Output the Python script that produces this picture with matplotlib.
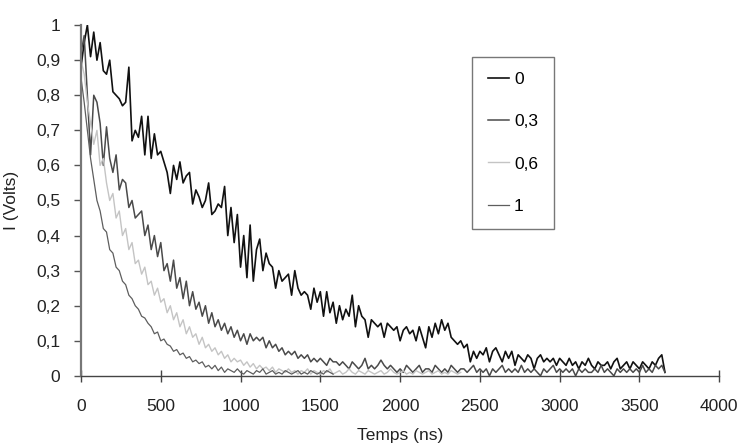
import numpy as np
import matplotlib
matplotlib.use("Agg")
import matplotlib.pyplot as plt
from matplotlib.ticker import FuncFormatter

plt.rcParams['font.family'] = ['Liberation Sans', 'DejaVu Sans']

# Sampling step of the recorded traces (ns)
STEP_NS = 20

# Current I (V) for each parameter value, sampled every STEP_NS
i_0 = [
    0.88, 0.95, 1.00, 0.91, 0.98, 0.90, 0.95, 0.87, 0.86, 0.90,
    0.81, 0.80, 0.79, 0.77, 0.78, 0.88, 0.67, 0.70, 0.68, 0.74,
    0.63, 0.74, 0.62, 0.69, 0.63, 0.64, 0.61, 0.58, 0.52, 0.60,
    0.56, 0.61, 0.55, 0.57, 0.58, 0.49, 0.53, 0.51, 0.48, 0.50,
    0.55, 0.46, 0.47, 0.49, 0.48, 0.54, 0.40, 0.48, 0.38, 0.46,
    0.31, 0.40, 0.28, 0.43, 0.27, 0.36, 0.39, 0.30, 0.35, 0.32,
    0.31, 0.25, 0.30, 0.27, 0.28, 0.29, 0.23, 0.30, 0.25, 0.23,
    0.24, 0.23, 0.19, 0.25, 0.21, 0.24, 0.17, 0.24, 0.18, 0.21,
    0.15, 0.20, 0.16, 0.19, 0.17, 0.23, 0.14, 0.20, 0.17, 0.16,
    0.11, 0.16, 0.15, 0.14, 0.15, 0.11, 0.15, 0.14, 0.13, 0.14,
    0.10, 0.13, 0.14, 0.12, 0.13, 0.10, 0.14, 0.11, 0.08, 0.14,
    0.11, 0.15, 0.12, 0.16, 0.13, 0.15, 0.11, 0.10, 0.09, 0.10,
    0.08, 0.09, 0.04, 0.07, 0.05, 0.07, 0.06, 0.08, 0.04, 0.07,
    0.08, 0.06, 0.04, 0.07, 0.05, 0.07, 0.03, 0.06, 0.05, 0.04,
    0.06, 0.05, 0.02, 0.05, 0.06, 0.04, 0.05, 0.04, 0.05, 0.03,
    0.05, 0.04, 0.03, 0.05, 0.03, 0.04, 0.02, 0.04, 0.03, 0.05,
    0.03, 0.02, 0.04, 0.03, 0.03, 0.04, 0.02, 0.04, 0.05, 0.02,
    0.03, 0.04, 0.02, 0.04, 0.03, 0.02, 0.04, 0.03, 0.02, 0.04,
    0.03, 0.05, 0.06, 0.01,
]

i_03 = [
    0.92, 0.97, 0.80, 0.63, 0.80, 0.78, 0.72, 0.60, 0.71, 0.62,
    0.58, 0.63, 0.53, 0.56, 0.55, 0.48, 0.50, 0.45, 0.46, 0.47,
    0.40, 0.43, 0.36, 0.40, 0.34, 0.38, 0.30, 0.32, 0.27, 0.33,
    0.25, 0.28, 0.22, 0.27, 0.20, 0.24, 0.19, 0.21, 0.17, 0.20,
    0.15, 0.18, 0.14, 0.16, 0.13, 0.15, 0.12, 0.14, 0.11, 0.13,
    0.10, 0.12, 0.09, 0.12, 0.10, 0.11, 0.10, 0.11, 0.08, 0.10,
    0.08, 0.09, 0.07, 0.08, 0.06, 0.07, 0.06, 0.07, 0.05, 0.06,
    0.05, 0.06, 0.04, 0.05, 0.04, 0.05, 0.04, 0.03, 0.05, 0.04,
    0.04, 0.03, 0.04, 0.03, 0.02, 0.04, 0.03, 0.02, 0.03, 0.05,
    0.02, 0.03, 0.02, 0.03, 0.045, 0.03, 0.02, 0.03, 0.02, 0.01,
    0.02, 0.01, 0.03, 0.02, 0.01, 0.02, 0.03, 0.01, 0.02, 0.02,
    0.01, 0.03, 0.02, 0.01, 0.02, 0.01, 0.03, 0.02, 0.01, 0.02,
    0.02, 0.01, 0.02, 0.03, 0.01, 0.02, 0.01, 0.02, 0.00, 0.02,
    0.01, 0.02, 0.03, 0.01, 0.02, 0.01, 0.02, 0.01, 0.03, 0.01,
    0.02, 0.01, 0.02, 0.01, 0.00, 0.02, 0.01, 0.02, 0.03, 0.01,
    0.02, 0.01, 0.02, 0.01, 0.02, 0.00, 0.02, 0.01, 0.02, 0.01,
    0.01, 0.02, 0.01, 0.03, 0.01, 0.02, 0.01, 0.00, 0.02, 0.01,
    0.02, 0.01, 0.02, 0.01, 0.02, 0.01, 0.03, 0.01, 0.02, 0.01,
    0.03, 0.02, 0.03, 0.01,
]

i_06 = [
    0.90, 0.86, 0.78, 0.72, 0.66, 0.70, 0.60, 0.62, 0.55, 0.50,
    0.52, 0.45, 0.47, 0.40, 0.42, 0.36, 0.38, 0.32, 0.33, 0.29,
    0.31, 0.26, 0.27, 0.23, 0.25, 0.21, 0.22, 0.18, 0.20, 0.16,
    0.18, 0.14, 0.16, 0.12, 0.14, 0.11, 0.12, 0.09, 0.11, 0.08,
    0.09, 0.07, 0.08, 0.06, 0.07, 0.05, 0.06, 0.04, 0.05, 0.04,
    0.045, 0.03, 0.04, 0.025, 0.035, 0.02, 0.03, 0.02, 0.025, 0.015,
    0.025, 0.01, 0.02, 0.015, 0.01, 0.02, 0.01, 0.015, 0.005, 0.015,
    0.01, 0.02, 0.005, 0.015, 0.01, 0.005, 0.015, 0.01, 0.02, 0.005,
    0.01, 0.015, 0.005, 0.01, 0.02, 0.01, 0.005, 0.015, 0.01, 0.005,
    0.015, 0.01, 0.005, 0.01, 0.015, 0.005, 0.01, 0.02, 0.01, 0.005,
    0.01, 0.015, 0.005, 0.01, 0.005, 0.015, 0.01, 0.005, 0.01, 0.015,
    0.005, 0.01, 0.015, 0.005, 0.01, 0.005, 0.015, 0.01, 0.005, 0.01,
]

i_1 = [
    0.85, 0.78, 0.70, 0.62, 0.56, 0.50, 0.47, 0.42, 0.41, 0.36,
    0.35, 0.31, 0.30, 0.27, 0.26, 0.23, 0.22, 0.20, 0.19, 0.17,
    0.165, 0.15, 0.14, 0.12, 0.125, 0.10, 0.105, 0.09, 0.085, 0.07,
    0.075, 0.06, 0.065, 0.05, 0.055, 0.04, 0.045, 0.035, 0.04, 0.025,
    0.03, 0.02, 0.03, 0.015, 0.025, 0.01, 0.02, 0.015, 0.01, 0.02,
    0.01, 0.005, 0.015, 0.01, 0.005, 0.015, 0.01, 0.02, 0.005, 0.01,
    0.015, 0.005, 0.01, 0.005, 0.015, 0.01, 0.005, 0.01, 0.015, 0.005,
    0.01, 0.005, 0.015, 0.01, 0.005, 0.01, 0.005, 0.015, 0.01, 0.005,
]

labels = ['0', '0,3', '0,6', '1']
series = [i_0, i_03, i_06, i_1]
colors = ['#111111', '#4a4a4a', '#c4c4c4', '#5e5e5e']
widths = [1.2, 1.1, 1.0, 0.9]

fig = plt.figure(figsize=(7.43, 4.48), dpi=100)
ax = fig.add_axes([0.109, 0.161, 0.859, 0.783])

for vals, lab, c, lw in zip(series, labels, colors, widths):
    t = np.arange(len(vals)) * STEP_NS
    ax.plot(t, vals, color=c, lw=lw, label=lab)

ax.set_xlim(0, 4000)
ax.set_ylim(0, 1)
ax.set_xticks(np.arange(0, 4001, 500))
ax.set_yticks(np.arange(0, 1.01, 0.1))

def comma_fmt(v, pos):
    s = f"{v:.1f}".rstrip('0').rstrip('.')
    return s.replace('.', ',')

ax.yaxis.set_major_formatter(FuncFormatter(comma_fmt))

for side in ('top', 'right'):
    ax.spines[side].set_visible(False)
ax.spines['left'].set_color('#777777')
ax.spines['left'].set_linewidth(1.6)
ax.spines['bottom'].set_color('#444444')
ax.spines['bottom'].set_linewidth(1.0)

ax.tick_params(axis='x', direction='inout', length=8, width=1, color='#444444',
               labelsize=12.5, labelcolor='#222222', pad=13)
ax.tick_params(axis='y', direction='out', length=5, width=1, color='#555555',
               labelsize=12.5, labelcolor='#222222', pad=10)

ax.set_xlabel('Temps (ns)', fontsize=12.5, color='#222222', labelpad=10)
ax.set_ylabel('I (Volts)', fontsize=12.5, color='#222222', labelpad=12)

leg = ax.legend(loc='upper left', bbox_to_anchor=(0.613, 0.91),
                frameon=True, fancybox=False, fontsize=12.5,
                labelspacing=1.55, handlelength=1.2, handletextpad=0.3,
                borderpad=0.9, borderaxespad=0)
leg.get_frame().set_edgecolor('#555555')
leg.get_frame().set_linewidth(1.0)

fig.savefig('out.png', dpi=100, facecolor='white')
